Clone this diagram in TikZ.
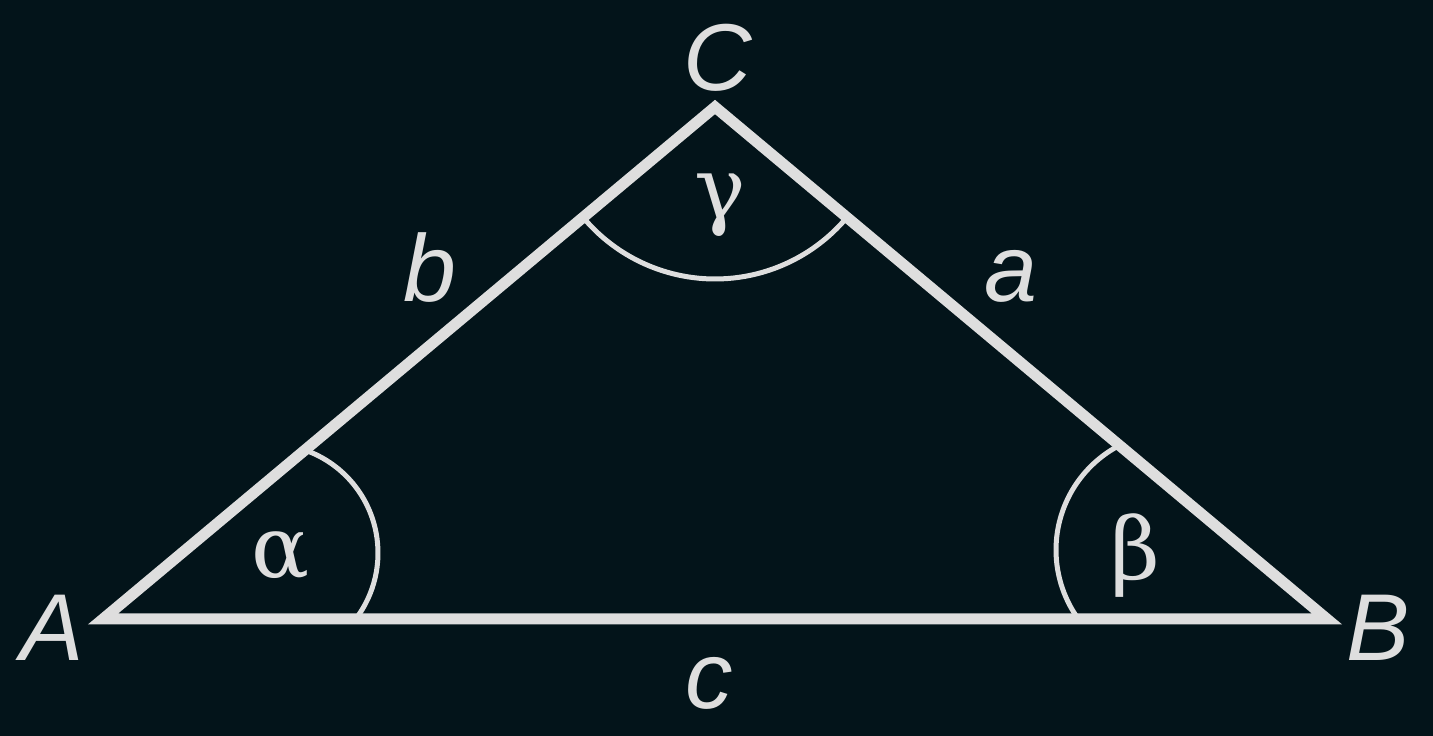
\documentclass[tikz,border=0pt]{standalone}
\usepackage{fontspec}
\newfontfamily\labfont{Liberation Sans}
\newfontfamily\grkfont{DejaVu Serif}
\definecolor{bg}{HTML}{03141A}
\definecolor{fg}{HTML}{DEDEDE}
\begin{document}
\begin{tikzpicture}[x=1pt,y=1pt,
  side/.style={draw=fg, line width=11pt, line join=miter},
  anglearc/.style={draw=fg, line width=5pt},
  vlabel/.style={text=fg, font=\labfont\itshape\fontsize{95}{100}\selectfont, inner sep=0pt, anchor=base},
  glabel/.style={text=fg, font=\grkfont\fontsize{86}{90}\selectfont, inner sep=0pt, anchor=base}]
\fill[bg] (0,0) rectangle (1433,736);
\useasboundingbox (0,0) rectangle (1433,736);
\coordinate (A) at (103,117);
\coordinate (B) at (1327,117);
\coordinate (C) at (715,629);
\coordinate (PA) at (269,183);
\coordinate (PB) at (1174,186);
% angle arcs
\draw[anglearc] (PA) ++(70.9:109) arc[start angle=70.9, end angle=-37.2, radius=109];
\draw[anglearc] (PB) ++(117.5:118) arc[start angle=117.5, end angle=215.8, radius=118];
\draw[anglearc] (C) ++(219.9:172) arc[start angle=219.9, end angle=320.1, radius=172];
% triangle
\draw[side] (A) -- (B) -- (C) -- cycle;
% vertex and side labels
\node[vlabel] (lA) at (52,75) {A};
\node[vlabel] (lB) at (1378,75) {B};
\node[vlabel] (lC) at (718,645) {C};
\node[vlabel] (la) at (1011,434) {a};
\node[vlabel] (lb) at (430,434) {b};
\node[vlabel] (lc) at (709,27) {c};
% angle labels
\node[glabel] (alpha) at (281,158) {α};
\node[glabel] (beta) at (1135,156) {β};
\node[glabel] (gamma) at (720,517) {γ};
\end{tikzpicture}
\end{document}
